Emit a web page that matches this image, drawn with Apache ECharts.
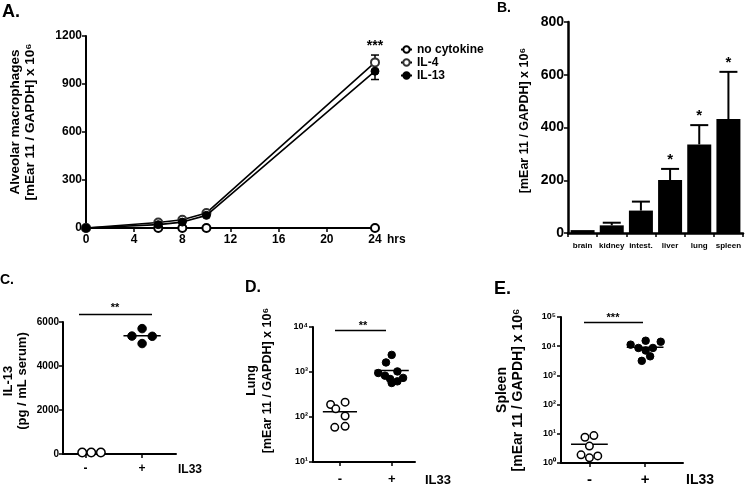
<!DOCTYPE html>
<html><head><meta charset="utf-8">
<script src="https://cdn.jsdelivr.net/npm/echarts@6/dist/echarts.min.js"></script>
<style>html,body{margin:0;padding:0;background:#fff}#c{width:745px;height:488px}</style>
</head><body><div id="c"></div>
<script>
// ---------- Panel A ----------
const hours = [0, 6, 8, 10, 24];
const noCytokine = [0, 0, 0, 0, 0];
const il4 = [0, 34, 52, 94, 1035];
const il13 = [0, 21, 37, 79, 980];
const il4Err = [0, 0, 0, 0, 46];
const il13Err = [0, 0, 0, 0, 52];
// ---------- Panel B ----------
const tissues = ['brain', 'kidney', 'intest.', 'liver', 'lung', 'spleen'];
const tissueMean = [11, 29, 85, 201, 336, 432];
const tissueSem = [0, 10, 34, 42, 73, 179];
const tissueSig = ['', '', '', '*', '*', '*'];
// ---------- Panels C, D, E (group '-' = 1, '+' = 2) ----------
const groupLabels = ['-', '+'];
const groupPos = [1, 2];
const cMinusX = [0.94, 1.10, 1.27];
const cMinusY = [70, 70, 70];
const cPlusX = [1.82, 2.0, 2.18, 2.0];
const cPlusY = [5360, 5700, 5350, 5020];
const cMedian = [null, 5380];
const dMinusX = [0.82, 0.92, 1.10, 1.10, 0.90, 1.10];
const dMinusY = [190, 152, 214, 105, 59, 62];
const dPlusX = [2.0, 1.89, 1.74, 1.87, 2.11, 1.97, 2.22, 2.0, 2.11];
const dPlusY = [2400, 1630, 950, 830, 1030, 700, 740, 570, 620];
const dMedian = [130, 1085];
const eMinusX = [0.92, 1.08, 1.0, 0.85, 1.0, 1.15];
const eMinusY = [7.6, 8.7, 3.8, 1.9, 1.5, 1.75];
const ePlusX = [1.74, 1.88, 2.01, 2.14, 2.28, 2.01, 2.09, 1.94];
const ePlusY = [11300, 8700, 15400, 8700, 14200, 7100, 4500, 3150];
const eMedian = [4.4, 9200];

const F = '"Liberation Sans", Arial, sans-serif';
const sup = ['⁰','¹','²','³','⁴','⁵','⁶','⁷','⁸','⁹'];
const pairs = (xs, ys) => xs.map((x, i) => [x, ys[i]]);
const plain = v => String(v);

function axisBase(extra) {
  return Object.assign({
    axisLine: { show: true, onZero: false, lineStyle: { color: '#000', width: 2 } },
    axisTick: { show: true, length: 4, lineStyle: { color: '#000', width: 1.5 } },
    splitLine: { show: false },
    axisLabel: { color: '#000', fontWeight: 'bold', fontFamily: F }
  }, extra);
}
function nameStyle(size, lh, extra) {
  return Object.assign({ color: '#000', fontWeight: 'bold', fontFamily: F, fontSize: size, lineHeight: lh, align: 'center' }, extra || {});
}

function errRender(params, api) {
  const x = api.value(0), y = api.value(1), e = api.value(2);
  const t = api.coord([x, y + e]), b = api.coord([x, y - e]);
  const w = 4, st = { stroke: '#000', lineWidth: 1.5 };
  return { type: 'group', children: [
    { type: 'line', shape: { x1: t[0], y1: t[1], x2: b[0], y2: b[1] }, style: st },
    { type: 'line', shape: { x1: t[0] - w, y1: t[1], x2: t[0] + w, y2: t[1] }, style: st },
    { type: 'line', shape: { x1: b[0] - w, y1: b[1], x2: b[0] + w, y2: b[1] }, style: st }
  ]};
}
function barErrRender(params, api) {
  const i = params.dataIndex;
  const m = api.value(1), e = api.value(2);
  const base = api.coord([i, m]), t = api.coord([i, m + e]);
  const st = { stroke: '#000', lineWidth: 2 };
  const ch = [];
  if (e > 0) {
    ch.push({ type: 'line', shape: { x1: t[0], y1: base[1], x2: t[0], y2: t[1] }, style: st });
    ch.push({ type: 'line', shape: { x1: t[0] - 9, y1: t[1], x2: t[0] + 9, y2: t[1] }, style: st });
  }
  if (tissueSig[i]) {
    ch.push({ type: 'text', style: { x: t[0], y: t[1] - 9, text: tissueSig[i], align: 'center', verticalAlign: 'middle', fontSize: 15, fontWeight: 'bold', fontFamily: F, fill: '#000' } });
  }
  return { type: 'group', children: ch };
}
function medianRender(params, api) {
  const x = api.value(0), m = api.value(1);
  const a = api.coord([x - 0.33, m]), b = api.coord([x + 0.33, m]);
  return { type: 'line', shape: { x1: a[0], y1: a[1], x2: b[0], y2: b[1] }, style: { stroke: '#000', lineWidth: 1.5 } };
}
const medianData = (arr) => arr.map((m, i) => m == null ? null : [groupPos[i], m]).filter(d => d);

const openStyle = { color: '#fff', borderColor: '#000', borderWidth: 1.5, opacity: 1 };
const fillStyle = { color: '#000', borderColor: '#000', borderWidth: 1, opacity: 1 };
const groupLabel = (size, margin) => ({ color: '#000', fontWeight: 'bold', fontFamily: F, fontSize: size, margin: margin, customValues: groupPos, formatter: v => groupLabels[groupPos.indexOf(v)] });
const logLabel = v => '10' + sup[Math.round(Math.log10(v))];

const option = {
  animation: false,
  backgroundColor: '#fff',
  grid: [
    { left: 86, top: 36, width: 289, height: 192 },
    { left: 568, top: 22, width: 175, height: 211 },
    { left: 63, top: 322, width: 113, height: 132 },
    { left: 313, top: 327, width: 102, height: 135 },
    { left: 561, top: 317, width: 122, height: 148 }
  ],
  legend: {
    left: 395, top: 38, orient: 'vertical', itemGap: 0, itemWidth: 11, itemHeight: 8,
    textStyle: { color: '#000', fontWeight: 'bold', fontFamily: F, fontSize: 12, lineHeight: 13 },
    data: ['no cytokine', 'IL-4', 'IL-13']
  },
  xAxis: [
    axisBase({ gridIndex: 0, type: 'value', min: 0, max: 24, interval: 4,
      axisLabel: { color: '#000', fontWeight: 'bold', fontFamily: F, fontSize: 12, margin: 6, formatter: plain },
      name: 'hrs', nameLocation: 'end', nameGap: 12,
      nameTextStyle: nameStyle(12, 14, { align: 'left', verticalAlign: 'top', padding: [5, 0, 0, 0] }) }),
    axisBase({ gridIndex: 1, type: 'category', data: tissues,
      axisLine: { show: true, lineStyle: { color: '#000', width: 2.5 } },
      axisLabel: { color: '#000', fontWeight: 'bold', fontFamily: F, fontSize: 8, margin: 9, interval: 0 } }),
    axisBase({ gridIndex: 2, type: 'value', min: 0.6, max: 2.6,
      axisTick: { show: true, length: 4, customValues: groupPos, lineStyle: { color: '#000', width: 1.5 } },
      axisLabel: groupLabel(12, 9),
      name: 'IL33', nameLocation: 'end', nameGap: 2,
      nameTextStyle: nameStyle(12, 14, { align: 'left', verticalAlign: 'top', padding: [9, 0, 0, 0] }) }),
    axisBase({ gridIndex: 3, type: 'value', min: 0.48, max: 2.45,
      axisTick: { show: true, length: 4, customValues: groupPos, lineStyle: { color: '#000', width: 1.5 } },
      axisLabel: groupLabel(13, 11),
      name: 'IL33', nameLocation: 'end', nameGap: 10,
      nameTextStyle: nameStyle(13, 15, { align: 'left', verticalAlign: 'top', padding: [11, 0, 0, 0] }) }),
    axisBase({ gridIndex: 4, type: 'value', min: 0.49, max: 2.68,
      axisTick: { show: true, length: 4, customValues: groupPos, lineStyle: { color: '#000', width: 1.5 } },
      axisLabel: groupLabel(15, 9),
      name: 'IL33', nameLocation: 'end', nameGap: 3,
      nameTextStyle: nameStyle(14, 16, { align: 'left', verticalAlign: 'top', padding: [9, 0, 0, 0] }) })
  ],
  yAxis: [
    axisBase({ gridIndex: 0, type: 'value', min: 0, max: 1200, interval: 300,
      axisLabel: { color: '#000', fontWeight: 'bold', fontFamily: F, fontSize: 12, margin: 4, formatter: plain },
      name: 'Alveolar macrophages\n[mEar 11 / GAPDH] x 10⁶', nameLocation: 'middle', nameGap: 48,
      nameTextStyle: nameStyle(13.5, 15, { padding: [0, 0, 0, 20] }) }),
    axisBase({ gridIndex: 1, type: 'value', min: 0, max: 800, interval: 200,
      axisLine: { show: true, lineStyle: { color: '#000', width: 2.5 } },
      axisLabel: { color: '#000', fontWeight: 'bold', fontFamily: F, fontSize: 14, margin: 4, formatter: plain },
      name: '[mEar 11 / GAPDH] x 10⁶', nameLocation: 'middle', nameGap: 36,
      nameTextStyle: nameStyle(12.5, 14, { padding: [0, 0, 0, 14] }) }),
    axisBase({ gridIndex: 2, type: 'value', min: 0, max: 6000, interval: 2000,
      axisLabel: { color: '#000', fontWeight: 'bold', fontFamily: F, fontSize: 10, margin: 4, formatter: plain },
      name: 'IL-13\n(pg / mL serum)', nameLocation: 'middle', nameGap: 34,
      nameTextStyle: nameStyle(13, 14, { padding: [0, 0, 0, 14] }) }),
    axisBase({ gridIndex: 3, type: 'log', logBase: 10, min: 10, max: 10000,
      axisLabel: { color: '#000', fontWeight: 'bold', fontFamily: F, fontSize: 9, margin: 5, formatter: logLabel },
      name: 'Lung\n[mEar 11 / GAPDH] x 10⁶', nameLocation: 'middle', nameGap: 37,
      nameTextStyle: nameStyle(12.5, 16, { padding: [0, 0, 0, 28] }) }),
    axisBase({ gridIndex: 4, type: 'log', logBase: 10, min: 1, max: 100000,
      axisLabel: { color: '#000', fontWeight: 'bold', fontFamily: F, fontSize: 9, margin: 5, formatter: logLabel },
      name: 'Spleen\n[mEar 11 / GAPDH] x 10⁶', nameLocation: 'middle', nameGap: 35,
      nameTextStyle: nameStyle(14, 16) })
  ],
  series: [
    { type: 'custom', xAxisIndex: 0, yAxisIndex: 0, z: 1, renderItem: errRender,
      data: hours.map((h, i) => [h, il4[i], il4Err[i]]).filter(d => d[2] > 0) },
    { type: 'custom', xAxisIndex: 0, yAxisIndex: 0, z: 1, renderItem: errRender,
      data: hours.map((h, i) => [h, il13[i], il13Err[i]]).filter(d => d[2] > 0) },
    { name: 'no cytokine', type: 'line', xAxisIndex: 0, yAxisIndex: 0, z: 3, clip: false,
      data: pairs(hours, noCytokine), symbol: 'circle', symbolSize: 8,
      itemStyle: { color: '#fff', borderColor: '#000', borderWidth: 2 }, lineStyle: { color: '#000', width: 2 } },
    { name: 'IL-4', type: 'line', xAxisIndex: 0, yAxisIndex: 0, z: 3, clip: false,
      data: pairs(hours, il4), symbol: 'circle', symbolSize: 8,
      itemStyle: { color: '#fff', borderColor: '#333', borderWidth: 2 }, lineStyle: { color: '#000', width: 1.6 } },
    { name: 'IL-13', type: 'line', xAxisIndex: 0, yAxisIndex: 0, z: 4, clip: false,
      data: pairs(hours, il13), symbol: 'circle', symbolSize: 8,
      itemStyle: { color: '#000', borderColor: '#000', borderWidth: 1 }, lineStyle: { color: '#000', width: 1.6 } },
    { type: 'bar', xAxisIndex: 1, yAxisIndex: 1, data: tissueMean, barWidth: 24,
      itemStyle: { color: '#000' } },
    { type: 'custom', xAxisIndex: 1, yAxisIndex: 1, z: 3, renderItem: barErrRender,
      data: tissueMean.map((m, i) => [i, m, tissueSem[i]]) },
    { type: 'scatter', xAxisIndex: 2, yAxisIndex: 2, z: 3, clip: false, symbolSize: 8.5,
      data: pairs(cMinusX, cMinusY), itemStyle: openStyle },
    { type: 'scatter', xAxisIndex: 2, yAxisIndex: 2, z: 3, symbolSize: 8.5,
      data: pairs(cPlusX, cPlusY), itemStyle: fillStyle },
    { type: 'custom', xAxisIndex: 2, yAxisIndex: 2, z: 2, renderItem: medianRender, data: medianData(cMedian) },
    { type: 'scatter', xAxisIndex: 3, yAxisIndex: 3, z: 3, symbolSize: 7.5,
      data: pairs(dMinusX, dMinusY), itemStyle: openStyle },
    { type: 'scatter', xAxisIndex: 3, yAxisIndex: 3, z: 3, symbolSize: 7.5,
      data: pairs(dPlusX, dPlusY), itemStyle: fillStyle },
    { type: 'custom', xAxisIndex: 3, yAxisIndex: 3, z: 2, renderItem: medianRender, data: medianData(dMedian) },
    { type: 'scatter', xAxisIndex: 4, yAxisIndex: 4, z: 3, symbolSize: 7.5,
      data: pairs(eMinusX, eMinusY), itemStyle: openStyle },
    { type: 'scatter', xAxisIndex: 4, yAxisIndex: 4, z: 3, symbolSize: 7.5,
      data: pairs(ePlusX, ePlusY), itemStyle: fillStyle },
    { type: 'custom', xAxisIndex: 4, yAxisIndex: 4, z: 2, renderItem: medianRender, data: medianData(eMedian) }
  ],
  graphic: [
    { type: 'text', left: 2, top: 3, style: { text: 'A.', fontSize: 18, fontWeight: 'bold', fontFamily: F, fill: '#000' } },
    { type: 'text', left: 497, top: 1, style: { text: 'B.', fontSize: 14, fontWeight: 'bold', fontFamily: F, fill: '#000' } },
    { type: 'text', left: 0, top: 273, style: { text: 'C.', fontSize: 14, fontWeight: 'bold', fontFamily: F, fill: '#000' } },
    { type: 'text', left: 245, top: 280, style: { text: 'D.', fontSize: 16, fontWeight: 'bold', fontFamily: F, fill: '#000' } },
    { type: 'text', left: 494, top: 280, style: { text: 'E.', fontSize: 18, fontWeight: 'bold', fontFamily: F, fill: '#000' } },
    { type: 'text', x: 375, y: 46, style: { text: '***', align: 'center', verticalAlign: 'middle', fontSize: 14, fontWeight: 'bold', fontFamily: F, fill: '#000' } },
    { type: 'line', shape: { x1: 79, y1: 314.5, x2: 152, y2: 314.5 }, style: { stroke: '#000', lineWidth: 1.5 } },
    { type: 'text', x: 115, y: 308, style: { text: '**', align: 'center', verticalAlign: 'middle', fontSize: 11, fontWeight: 'bold', fontFamily: F, fill: '#000' } },
    { type: 'line', shape: { x1: 335, y1: 330.5, x2: 386, y2: 330.5 }, style: { stroke: '#000', lineWidth: 1.5 } },
    { type: 'text', x: 363, y: 326, style: { text: '**', align: 'center', verticalAlign: 'middle', fontSize: 11, fontWeight: 'bold', fontFamily: F, fill: '#000' } },
    { type: 'line', shape: { x1: 584, y1: 322.5, x2: 643, y2: 322.5 }, style: { stroke: '#000', lineWidth: 1.5 } },
    { type: 'text', x: 613, y: 318, style: { text: '***', align: 'center', verticalAlign: 'middle', fontSize: 11, fontWeight: 'bold', fontFamily: F, fill: '#000' } }
  ]
};
const chart = echarts.init(document.getElementById('c'), null, { renderer: 'canvas' });
chart.setOption(option);
</script></body></html>
